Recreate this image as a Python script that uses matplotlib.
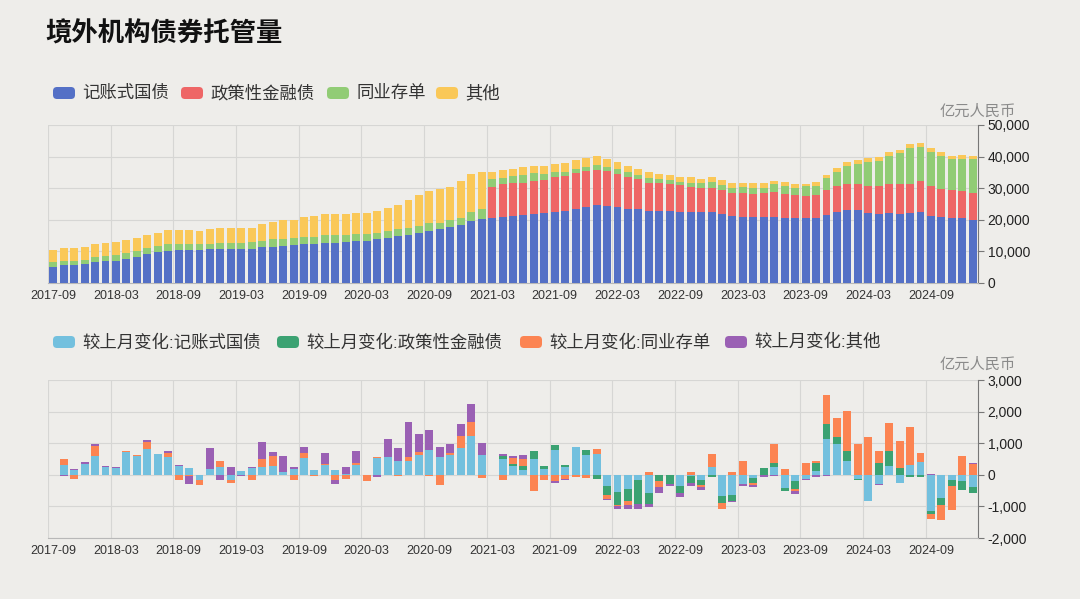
import numpy as np
import pandas as pd
from matplotlib import pyplot as plt
from matplotlib.patches import FancyBboxPatch
from matplotlib.ticker import FuncFormatter

plt.rcParams['font.family'] = ['Liberation Sans', 'Noto Sans CJK SC']

# months 2017-09 .. 2025-01
months = pd.date_range('2017-09', periods=89, freq='MS').strftime('%Y-%m').tolist()

series_names = ['记账式国债', '政策性金融债', '同业存单', '其他']
change_names = ['较上月变化:' + s for s in series_names]

# stock, 亿元人民币
govt = [5150, 5670, 5670, 5880, 6510, 6830, 7040, 7670, 8300, 9030, 9660, 10190,
        10500, 10500, 10500, 10610, 10710, 10710, 10710, 10820, 11240, 11550, 11760, 11870,
        12500, 12500, 12810, 12810, 13020, 13340, 13340, 13860, 14390, 14910, 15230, 15750,
        16590, 17010, 17640, 18380, 19740, 20370, 20580, 20900, 21210, 21420, 21740, 22050,
        22370, 22890, 23420, 24150, 24780, 24470, 23940, 23420, 23420, 22890, 22890, 22890,
        22370, 22370, 22370, 22370, 21840, 21110, 21000, 20790, 20790, 21000, 20480, 20450,
        20420, 20420, 21670, 22510, 23240, 23240, 22200, 21990, 22200, 21990, 22200, 22510,
        21360, 20730, 20620, 20420, 19890]
policy = [0] * 42 + [
        9870, 10290, 10290, 10290, 10500, 10600,
        11130, 10920, 11240, 11240, 11130, 10920, 10610, 10190, 9350, 8820, 8610, 8300,
        8510, 8090, 7770, 7770, 7560, 7460, 7350, 7250, 7560, 7770, 7560, 7300,
        7010, 7430, 7850, 8270, 8170, 8170, 8370, 8580, 9210, 9420, 9210, 9640,
        9420, 9000, 8900, 8570, 8580]
ncd = [1360, 1260, 1260, 1470, 1580, 1680, 1790, 1790, 1790, 2000, 2100, 2100,
       2000, 2000, 1790, 1890, 2000, 2000, 2000, 2000, 2000, 2310, 2310, 2420,
       2210, 2210, 2310, 2310, 2100, 2100, 2100, 1890, 2100, 2100, 2100, 2310,
       2310, 2100, 2210, 2310, 2730, 2940, 2310, 2100, 2310, 2420, 2420, 1990,
       1470, 1370, 1260, 1370, 1580, 1370, 1370, 1470, 1260, 1580, 1260, 1370,
       1160, 1260, 1370, 1790, 1470, 1580, 2100, 2100, 1790, 2420, 2630, 2360,
       3140, 2930, 3670, 4300, 5760, 6280, 7650, 8170, 8800, 9640, 11210, 11000,
       10790, 10580, 9750, 10280, 10690]
other = [4000, 3990, 3990, 3990, 4200, 4100, 3990, 4100, 4200, 4200, 4200, 4410,
         4200, 4200, 4200, 4730, 4730, 4730, 4730, 4620, 5360, 5360, 5780, 5780,
         6200, 6510, 6620, 6620, 6620, 6830, 6830, 7040, 7350, 7560, 8930, 9660,
         10190, 10500, 10610, 11550, 11870, 11870, 2310, 2420, 2310, 2630, 2520, 2520,
         2840, 2840, 2940, 2730, 2630, 2520, 2420, 2100, 2100, 1890, 1890, 1680,
         1580, 1680, 1470, 1470, 1680, 1580, 1260, 1370, 1370, 1160, 1370, 1100,
         900, 1050, 1050, 1250, 1260, 1260, 1260, 1050, 1150, 1050, 1260, 1050,
         1050, 1050, 1040, 1250, 1050]

nan = np.nan
# month-on-month changes (no value for the first month and for 2021-03)
chg_govt = [nan, 300, 150, 340, 590, 250, 230, 715, 590, 820, 670, 560,
            270, 210, -180, 170, 240, -160, 130, 230, 260, 270, 80, 190,
            530, 160, 320, 160, 30, 300, 0, 530, 560, 450, 450, 630,
            780, 560, 630, 860, 1220, 630, nan, 505, 270, 140, 505, 180,
            770, 240, 880, 630, 650, -360, -550, -440, -150, -570, 0, 0,
            -370, -50, -150, 240, -670, -650, -285, -100, 0, 240, -420, -200,
            -125, 115, 1140, 980, 450, -125, -830, -280, 265, -265, 295, 390,
            -1130, -730, -180, -200, -390]
chg_policy = [nan] + [0] * 41 + [
              nan, 105, 60, 130, 250, 95,
              160, 75, 0, 140, -130, -270, -400, -400, -760, -350, -210, -285,
              -210, -200, -170, -70, -210, -190, 0, -150, 210, 140, -85, -240,
              0, 260, 475, 210, 315, -50, 0, 370, 485, 220, -75, -75,
              -125, -210, -190, -270, -190]
chg_ncd = [nan, 190, -140, 0, 320, 0, 0, 30, 40, 210, 0, 140,
           -180, -50, -130, 0, 200, -95, 0, -180, 240, 340, 0, -150,
           170, -50, 30, -150, -130, 70, -190, 30, 0, -50, 105, 105,
           -40, -320, 60, 360, 440, -105, nan, -150, 190, 240, -505, -180,
           -210, -130, -85, -105, 170, -130, -40, -105, 0, 85, -190, 0,
           0, 85, -75, 420, -190, 85, 430, -85, 0, 590, 170, -75,
           370, 75, 900, 600, 1240, 980, 1210, 380, 900, 860, 1210, 295,
           -140, -485, -740, 580, 330]
chg_other = [nan, -50, 20, 60, 75, 40, 30, 0, 0, 85, 0, 40,
             30, -230, -20, 670, -150, 240, -40, 30, 550, 100, 525, 60,
             190, 0, 350, -150, 210, 390, 0, -70, 580, 390, 1130, 570,
             630, 320, 300, 380, 580, 390, nan, 50, 85, 130, 0, 0,
             -50, -50, 0, 30, 0, -50, -105, -130, -170, -85, -170, -75,
             -130, -105, -85, 0, 0, -20, -75, -60, -60, -40, 0, -105,
             -30, -75, -40, 0, 20, 0, 0, -30, 0, 0, 0, 0,
             30, 0, 0, 0, 40]

top_colors = ['#5470c6', '#ee6666', '#91cc75', '#fac858']
bot_colors = ['#73c0de', '#3ba272', '#fc8452', '#9a60b4']
BG = '#eeedea'
GRID = '#d6d6d4'
W, H = 1080, 599

fig = plt.figure(figsize=(W / 100, H / 100), dpi=100, facecolor=BG)
ax1 = fig.add_axes([48 / W, 1 - 283 / H, 930 / W, 158 / H])
ax2 = fig.add_axes([48 / W, 1 - 538 / H, 930 / W, 158 / H])

x = np.arange(len(months))
bw = 0.76

# top: stacked stock
bottom = np.zeros(len(months))
for vals, c in zip([govt, policy, ncd, other], top_colors):
    v = np.array(vals, dtype=float)
    ax1.bar(x, v, bw, bottom=bottom, color=c, zorder=3)
    bottom += v

# bottom: positives and negatives stacked separately
pos = np.zeros(len(months))
neg = np.zeros(len(months))
for vals, c in zip([chg_govt, chg_policy, chg_ncd, chg_other], bot_colors):
    v = np.nan_to_num(np.array(vals, dtype=float))
    base = np.where(v >= 0, pos, neg)
    ax2.bar(x, v, bw, bottom=base, color=c, zorder=3)
    pos += np.where(v > 0, v, 0)
    neg += np.where(v < 0, v, 0)

tick_idx = list(range(0, len(months), 6))
for ax, ylim, step in [(ax1, (0, 50000), 10000), (ax2, (-2000, 3000), 1000)]:
    ax.set_facecolor(BG)
    ax.set_xlim(-0.5, len(months) - 0.5)
    ax.set_ylim(*ylim)
    ax.set_yticks(np.arange(ylim[0], ylim[1] + 1, step))
    ax.yaxis.tick_right()
    ax.yaxis.set_major_formatter(FuncFormatter(lambda v, p: f'{v:,.0f}'))
    ax.grid(axis='y', color=GRID, lw=0.8, zorder=0)
    for i in tick_idx:
        ax.axvline(i - 0.5, color=GRID, lw=0.8, zorder=0)
    ax.set_xticks(tick_idx)
    ax.set_xticklabels([months[i] for i in tick_idx])
    for s in ['top', 'left']:
        ax.spines[s].set_visible(False)
    ax.spines['right'].set_color('#777777')
    ax.spines['bottom'].set_color('#b8b8b8')
    ax.tick_params(axis='y', right=True, length=4, color='#777777', labelsize=10,
                   labelcolor='#222222', pad=3)
    ax.tick_params(axis='x', length=0, labelsize=9, labelcolor='#333333', pad=5)

fig.text(978 / W, 1 - 112 / H, '亿元人民币', ha='center', va='center', fontsize=11,
         color='#8a8a8a')
fig.text(978 / W, 1 - 365 / H, '亿元人民币', ha='center', va='center', fontsize=11,
         color='#8a8a8a')

fig.text(45 / W, 1 - 34 / H, '境外机构债券托管量', ha='left', va='center', fontsize=19,
         fontweight='bold', family=['Noto Sans CJK SC'], color='#111111')


def legend_item(px, py, color, label):
    box = FancyBboxPatch((px / 100, (H - py - 6) / 100), 0.22, 0.12,
                         boxstyle='round,pad=0,rounding_size=0.04',
                         transform=fig.dpi_scale_trans, facecolor=color,
                         edgecolor='none')
    fig.patches.append(box)
    fig.text((px + 29) / W, 1 - py / H, label, ha='left', va='center',
             fontsize=12.5, color='#333333')


for px, c, lab in zip([53, 181, 327, 436], top_colors, series_names):
    legend_item(px, 93, c, lab)
for px, c, lab in zip([53, 277, 520, 725], bot_colors, change_names):
    legend_item(px, 342, c, lab)

plt.savefig('out.png', dpi=100, facecolor=BG)
